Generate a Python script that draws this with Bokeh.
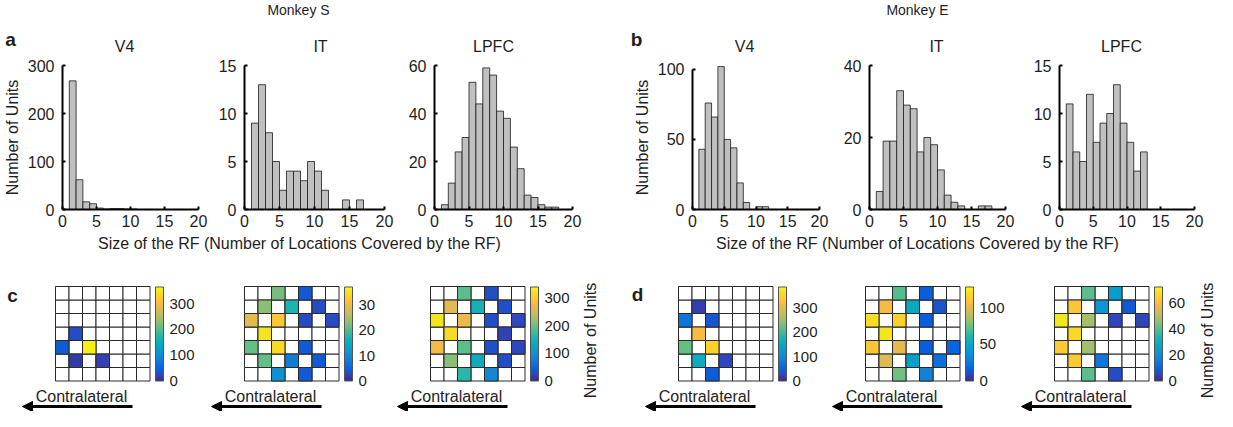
import numpy as np
from bokeh.plotting import figure
from bokeh.models import (Range1d, Label, Arrow, NormalHead, ColorBar,
                          LinearColorMapper, FixedTicker, ColumnDataSource)
from bokeh.layouts import row, column
from bokeh.embed import file_html
from bokeh.resources import INLINE

FONT = "Liberation Sans"
TXT = "#1e1e1e"

# ---------------- data ----------------
monkeys = ["Monkey S", "Monkey E"]
areas = ["V4", "IT", "LPFC"]
panel_letters = ["a", "b", "c", "d"]
x_label = "Size of the RF (Number of Locations Covered by the RF)"
y_label = "Number of Units"
arrow_text = "Contralateral"
x_ticks = [0, 5, 10, 15, 20]
first_bin = 1  # histogram bins are [1,2), [2,3), ...

hist_S_V4 = [268, 62, 16, 12, 3, 1, 2, 2, 1, 1]
hist_S_IT = [9, 13, 8, 5, 2, 4, 4, 3, 5, 4, 2, 0, 0, 1, 0, 1]
hist_S_LPFC = [2, 11, 24, 30, 53, 44, 59, 56, 41, 38, 26, 17, 6, 5, 2, 1, 1]
hist_E_V4 = [43, 76, 66, 102, 50, 44, 19, 5, 0, 2, 2]
hist_E_IT = [5, 19, 19, 33, 29, 28, 16, 20, 18, 11, 4, 2, 1, 0, 0, 1, 1]
hist_E_LPFC = [11, 6, 5, 12, 7, 9, 10, 13, 9, 7, 4, 6]

ymax_S = [300, 15, 60]
ymax_E = [100, 40, 15]
yticks_S = [[0, 100, 200, 300], [0, 5, 10, 15], [0, 20, 40, 60]]
yticks_E = [[0, 50, 100], [0, 20, 40], [0, 5, 10, 15]]

# RF location maps (7x7 grid, row 0 = top, col 0 = left)
rf_S_V4_row = [3, 4, 4, 5, 5]
rf_S_V4_col = [1, 0, 2, 1, 3]
rf_S_V4_val = [30, 40, 355, 15, 20]

rf_S_IT_row = [0, 0, 1, 1, 1, 2, 2, 2, 2, 3, 4, 4, 4, 5, 5, 5, 6, 6]
rf_S_IT_col = [2, 4, 1, 3, 5, 0, 2, 4, 6, 1, 0, 2, 4, 1, 3, 5, 2, 4]
rf_S_IT_val = [22, 4, 23, 17, 3, 29, 32, 3, 3, 35, 21, 34, 4, 21, 8, 4, 11, 4]

rf_S_LPFC_row = [0, 0, 1, 1, 1, 2, 2, 2, 2, 3, 3, 4, 4, 4, 4, 5, 5, 5, 6, 6]
rf_S_LPFC_col = [2, 4, 1, 3, 5, 0, 2, 4, 6, 1, 5, 0, 2, 4, 6, 1, 3, 5, 2, 4]
rf_S_LPFC_val = [190, 30, 265, 150, 30, 325, 270, 30, 25, 315, 20, 275, 190, 30, 25,
                 210, 140, 30, 165, 90]

rf_E_V4_row = [1, 2, 2, 3, 4, 4, 5, 5, 6]
rf_E_V4_col = [1, 0, 2, 1, 0, 2, 1, 3, 2]
rf_E_V4_val = [20, 75, 40, 320, 220, 345, 160, 30, 45]

rf_E_IT_row = [0, 0, 1, 1, 1, 2, 2, 2, 3, 4, 4, 4, 4, 5, 5, 5, 6, 6]
rf_E_IT_col = [2, 4, 1, 3, 5, 0, 2, 4, 1, 0, 2, 4, 6, 1, 3, 5, 2, 4]
rf_E_IT_val = [70, 15, 105, 50, 12, 118, 115, 15, 122, 110, 100, 15, 18, 98, 45, 22, 75, 30]

rf_E_LPFC_row = [0, 0, 1, 1, 1, 2, 2, 2, 2, 3, 4, 4, 5, 5, 6, 6]
rf_E_LPFC_col = [2, 4, 1, 3, 5, 0, 2, 4, 6, 1, 0, 2, 1, 3, 2, 4]
rf_E_LPFC_val = [40, 24, 62, 22, 8, 69, 48, 5, 5, 66, 63, 48, 63, 14, 40, 6]

cbar_high_S = [365, 37, 340]
cbar_high_E = [385, 128, 72]
cbar_ticks_S = [[0, 100, 200, 300], [0, 10, 20, 30], [0, 100, 200, 300]]
cbar_ticks_E = [[0, 100, 200, 300], [0, 50, 100], [0, 20, 40, 60]]

# ---------------- colormap (parula) ----------------
_parula_pts = [
    (0.2081, 0.1663, 0.5292), (0.1959, 0.2645, 0.7279), (0.0117, 0.3875, 0.8820),
    (0.0498, 0.4586, 0.8641), (0.0793, 0.5200, 0.8312), (0.0343, 0.5966, 0.8199),
    (0.0228, 0.6535, 0.7768), (0.0843, 0.6928, 0.7062), (0.2178, 0.7250, 0.6193),
    (0.3953, 0.7459, 0.5244), (0.5709, 0.7485, 0.4494), (0.7184, 0.7411, 0.3905),
    (0.8507, 0.7299, 0.3360), (0.9739, 0.7314, 0.2666), (0.9880, 0.8066, 0.1794),
    (0.9589, 0.8949, 0.1132), (0.9763, 0.9831, 0.0538)]
_rgb = np.array(_parula_pts) * 255
_t = np.array([0, 4, 8, 12, 16, 20, 24, 28, 32, 36, 40, 44, 48, 52, 56, 60, 63]) / 63.0
_tt = np.linspace(0, 1, 256)
PARULA = ["#%02x%02x%02x" % tuple(int(round(np.interp(v, _t, _rgb[:, k]))) for k in range(3))
          for v in _tt]

# ---------------- layout geometry (px) ----------------
TOP_BAND_H = 55
fig_w = [215, 190, 225, 210, 190, 187]
fig_left = [0, 215, 405, 630, 840, 1030]
border_l = [58, 29, 27, 49, 25, 24]
FRAME_W = 140
HIST_TOP, HIST_FRAME_H, HIST_BOTTOM = 10, 144, 23
HIST_H = HIST_TOP + HIST_FRAME_H + HIST_BOTTOM   # 177
BAND_H = 24
HEAT_H = 155
heat_w = [203, 192, 233, 198, 189, 202]
heat_left = [0, 203, 395, 628, 826, 1015]
PX = 13.5
GRID_TOP = 30
grid_left = [55, 244, 430, 678, 865, 1054]
title_cx = [124, 320, 493, 744, 936, 1121]
HEAT_Y0 = TOP_BAND_H + HIST_H + BAND_H   # canvas y where heat row starts

lab = dict(text_font=FONT, text_align="center", text_baseline="middle", text_color=TXT)


def blank_fig(w, h):
    p = figure(width=w, height=h, title=None, x_range=Range1d(0, w),
               y_range=Range1d(0, h), min_border=0, x_axis_location=None,
               y_axis_location=None, output_backend="svg", toolbar_location=None)
    p.xgrid.visible = False
    p.ygrid.visible = False
    p.outline_line_color = None
    return p


def hist_fig(i, counts, ymax, yticks, ylabel=False):
    ytop = max(ymax, max(counts) + 1)
    extra = int(round(HIST_FRAME_H * (ytop - ymax) / ymax))
    ytop = ymax * (HIST_FRAME_H + extra) / HIST_FRAME_H
    p = figure(width=fig_w[i], height=HIST_H, title=None,
               min_border_left=border_l[i],
               min_border_right=fig_w[i] - border_l[i] - FRAME_W,
               min_border_top=HIST_TOP - extra, min_border_bottom=HIST_BOTTOM,
               x_range=Range1d(0, 20), y_range=Range1d(0, ytop),
               output_backend="svg", toolbar_location=None)
    c = np.array(counts)
    edges = np.arange(len(c) + 1) + first_bin
    m = c > 0
    p.quad(left=edges[:-1][m], right=edges[1:][m], bottom=0, top=c[m],
           fill_color="#c0c0c0", line_color="#1a1a1a", line_width=0.8)
    p.xaxis.ticker = FixedTicker(ticks=x_ticks)
    p.yaxis.ticker = FixedTicker(ticks=yticks)
    p.yaxis.bounds = (0, ymax)
    for ax in (p.xaxis[0], p.yaxis[0]):
        ax.axis_line_width = 2
        ax.axis_line_color = "black"
        ax.major_tick_in = 3
        ax.major_tick_out = 0
        ax.major_tick_line_width = 2
        ax.minor_tick_line_color = None
        ax.major_label_text_font = FONT
        ax.major_label_text_font_size = "16px"
        ax.major_label_text_color = TXT
        ax.major_label_standoff = 8
    p.xaxis.major_label_standoff = 5
    if ylabel:
        p.yaxis.axis_label = y_label
        p.yaxis.axis_label_text_font = FONT
        p.yaxis.axis_label_text_font_size = "16px"
        p.yaxis.axis_label_text_font_style = "normal"
        p.yaxis.axis_label_text_color = TXT
        p.yaxis.axis_label_standoff = 4
    p.xgrid.visible = False
    p.ygrid.visible = False
    p.outline_line_color = None
    return p


def heat_fig(i, rows_, cols_, vals, high, ticks):
    x0 = -(grid_left[i] - heat_left[i]) / PX
    y1 = 7 + GRID_TOP / PX
    p = figure(width=heat_w[i], height=HEAT_H, title=None,
               x_range=Range1d(x0, x0 + heat_w[i] / PX),
               y_range=Range1d(y1 - HEAT_H / PX, y1),
               min_border=0, x_axis_location=None, y_axis_location=None,
               output_backend="svg", toolbar_location=None)
    p.xgrid.visible = False
    p.ygrid.visible = False
    p.outline_line_color = None
    gx, gy = np.meshgrid(np.arange(7), np.arange(7))
    p.rect(x=gx.ravel() + 0.5, y=gy.ravel() + 0.5, width=1, height=1,
           fill_color="white", line_color="#2a2a2a", line_width=1)
    mapper = LinearColorMapper(palette=PARULA, low=0, high=high)
    src = ColumnDataSource(dict(x=np.array(cols_) + 0.5,
                                y=6.5 - np.array(rows_), v=vals))
    p.rect(x="x", y="y", width=1, height=1, source=src,
           fill_color={"field": "v", "transform": mapper},
           line_color="#2a2a2a", line_width=1)
    cb = ColorBar(color_mapper=mapper,
                  location=(grid_left[i] + 100 - heat_left[i], HEAT_H - GRID_TOP - 7 * PX),
                  width=8, height=int(round(7 * PX)), padding=0,
                  ticker=FixedTicker(ticks=ticks),
                  major_label_text_font=FONT, major_label_text_font_size="15px",
                  major_label_text_color=TXT, label_standoff=6,
                  major_tick_line_color=None, bar_line_color="#555555",
                  border_line_color=None, background_fill_color=None)
    p.add_layout(cb)
    grid_bottom_canvas = HEAT_Y0 + GRID_TOP + 7 * PX
    p._cx = lambda cx: (cx - grid_left[i]) / PX
    p._cy = lambda cy: (grid_bottom_canvas - cy) / PX
    p.add_layout(Label(x=p._cx(grid_left[i] + 26), y=p._cy(396), text=arrow_text,
                       text_font_size="16px", **lab))
    ya = p._cy(406)
    p.add_layout(Arrow(end=NormalHead(size=10, fill_color="black", line_color="black"),
                       x_start=p._cx(grid_left[i] + 77), y_start=ya,
                       x_end=p._cx(grid_left[i] - 33), y_end=ya,
                       line_width=3, line_color="black"))
    return p


# top band: monkey names, panel letters, area titles
top = blank_fig(1217, TOP_BAND_H)
ty = lambda cy: TOP_BAND_H - cy
top.add_layout(Label(x=298, y=ty(9), text=monkeys[0], text_font_size="14px", **lab))
top.add_layout(Label(x=917, y=ty(9), text=monkeys[1], text_font_size="14px", **lab))
top.add_layout(Label(x=10, y=ty(39), text=panel_letters[0], text_font_size="19px",
                     text_font_style="bold", **lab))
top.add_layout(Label(x=636, y=ty(39), text=panel_letters[1], text_font_size="19px",
                     text_font_style="bold", **lab))
for k in range(6):
    top.add_layout(Label(x=title_cx[k], y=ty(46), text=areas[k % 3],
                         text_font_size="16px", **lab))

hS = [hist_S_V4, hist_S_IT, hist_S_LPFC]
hE = [hist_E_V4, hist_E_IT, hist_E_LPFC]
hist_figs = []
for k in range(3):
    hist_figs.append(hist_fig(k, hS[k], ymax_S[k], yticks_S[k], ylabel=(k == 0)))
for k in range(3):
    hist_figs.append(hist_fig(3 + k, hE[k], ymax_E[k], yticks_E[k], ylabel=(k == 0)))

# x-label band
band = blank_fig(1217, BAND_H)
for cx in (299, 917):
    band.add_layout(Label(x=cx, y=BAND_H - (243 - TOP_BAND_H - HIST_H), text=x_label,
                          text_font_size="16px", **lab))

rS = [(rf_S_V4_row, rf_S_V4_col, rf_S_V4_val), (rf_S_IT_row, rf_S_IT_col, rf_S_IT_val),
      (rf_S_LPFC_row, rf_S_LPFC_col, rf_S_LPFC_val)]
rE = [(rf_E_V4_row, rf_E_V4_col, rf_E_V4_val), (rf_E_IT_row, rf_E_IT_col, rf_E_IT_val),
      (rf_E_LPFC_row, rf_E_LPFC_col, rf_E_LPFC_val)]
heat_figs = []
for k in range(3):
    heat_figs.append(heat_fig(k, *rS[k], cbar_high_S[k], cbar_ticks_S[k]))
for k in range(3):
    heat_figs.append(heat_fig(3 + k, *rE[k], cbar_high_E[k], cbar_ticks_E[k]))

heat_figs[0].add_layout(Label(x=heat_figs[0]._cx(12), y=heat_figs[0]._cy(295),
                              text=panel_letters[2], text_font_size="19px",
                              text_font_style="bold", **lab))
heat_figs[3].add_layout(Label(x=heat_figs[3]._cx(637), y=heat_figs[3]._cy(294),
                              text=panel_letters[3], text_font_size="19px",
                              text_font_style="bold", **lab))
for k, cx in ((2, 590), (5, 1207)):
    heat_figs[k].add_layout(Label(x=heat_figs[k]._cx(cx), y=heat_figs[k]._cy(340),
                                  text=y_label, angle=np.pi / 2,
                                  text_font_size="16px", **lab))

layout = column(top, row(*hist_figs), band, row(*heat_figs))
open("out.html", "w").write(file_html(layout, INLINE))
